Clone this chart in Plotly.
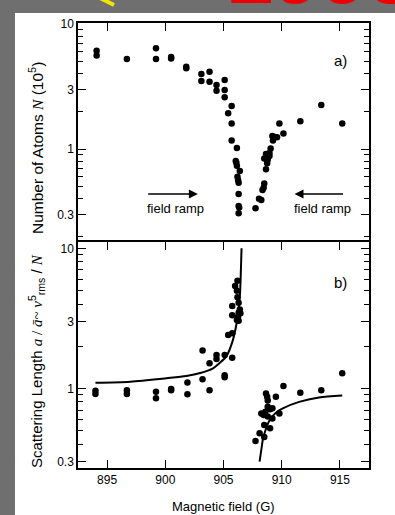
import plotly.graph_objects as go

# ---------------- data ----------------
# Panel a) Number of atoms N (10^5) vs magnetic field (G)
a_left_B = [894.1, 894.1, 896.7, 899.2, 899.2, 900.5, 900.5, 901.8, 901.8,
            903.1, 903.1, 903.8, 903.8, 904.4, 904.4, 905.1, 905.1, 905.1,
            905.7, 905.4, 905.7, 905.7, 906.15, 906.05, 906.1, 906.15,
            906.4, 906.2, 906.25, 906.3, 906.3, 906.3, 906.35, 906.3]
a_left_N = [6.1, 5.6, 5.25, 6.4, 5.25, 5.45, 5.3, 4.55, 4.42,
            3.98, 3.5, 4.15, 3.45, 3.25, 2.93, 3.56, 2.97, 2.59,
            2.21, 1.93, 1.6, 1.17, 1.02, 0.80, 0.78, 0.735,
            0.667, 0.60, 0.565, 0.537, 0.436, 0.35, 0.34, 0.306]
a_right_B = [907.75, 908.05, 908.25, 908.35, 908.45, 908.5, 908.65, 908.75,
             908.5, 908.8, 908.95, 908.65, 908.95, 909.05, 909.25, 909.4,
             909.6, 909.2, 909.8, 910.15, 911.6, 913.4, 915.2]
a_right_N = [0.335, 0.40, 0.39, 0.47, 0.49, 0.53, 0.69, 0.77,
             0.84, 0.82, 0.88, 0.91, 0.93, 1.01, 1.17, 1.25,
             1.24, 1.27, 1.6, 1.33, 1.67, 2.25, 1.6]

# Panel b) scattering length a / a~ vs magnetic field (G)
b_left_B = [894.0, 894.0, 896.7, 896.7, 899.2, 899.2, 900.5, 900.5, 901.9, 901.9,
            903.2, 903.2, 903.8, 903.8, 904.4, 904.4, 905.1, 905.1, 905.1,
            905.75, 905.4, 905.75, 905.75, 905.75, 906.2, 906.0, 906.15,
            906.2, 906.3, 906.4, 906.3, 906.45, 906.25, 906.15, 906.3]
b_left_r = [0.96, 0.91, 0.97, 0.91, 0.946, 0.85, 0.99, 0.97, 1.1, 0.906,
            1.16, 1.86, 0.97, 1.51, 1.73, 1.62, 1.24, 1.2, 1.73,
            1.65, 2.4, 2.47, 3.87, 3.32, 5.87, 5.38, 4.98,
            4.47, 4.09, 3.66, 3.47, 3.43, 3.24, 3.07, 3.04]
b_right_B = [908.65, 908.75, 908.8, 909.5, 910.15, 911.6, 913.4, 915.2,
             908.25, 908.45, 908.6, 908.8, 909.0, 909.2, 909.8, 908.8, 909.2,
             908.5, 909.0, 908.1, 908.5, 907.75]
b_right_r = [0.92, 0.87, 0.82, 0.87, 1.04, 0.93, 0.97, 1.28,
             0.66, 0.645, 0.68, 0.74, 0.71, 0.72, 0.66, 0.63, 0.61,
             0.547, 0.518, 0.477, 0.45, 0.42]

# fitted curve
curve_left_B = [894.0, 897.0, 900.1, 901.8, 903.0, 904.1, 904.6, 905.24,
                905.8, 906.15, 906.4, 906.5, 906.55]
curve_left_r = [1.097, 1.115, 1.18, 1.224, 1.285, 1.39, 1.5, 1.69,
                2.2, 3.0, 4.5, 7.2, 10.0]
curve_right_B = [908.1, 908.24, 908.4, 908.6, 908.9, 909.2, 909.6, 910.1,
                 911.5, 913.2, 915.2]
curve_right_r = [0.30, 0.36, 0.44, 0.50, 0.58, 0.63, 0.68, 0.72,
                 0.80, 0.86, 0.89]

x_ticks = [895, 900, 905, 910, 915]
y_ticks = [0.3, 1, 3, 10]
y_tick_text = ["0.3", "1", "3", "10"]
y_minor = [0.2, 0.4, 0.5, 0.6, 0.7, 0.8, 0.9, 2, 4, 5, 6, 7, 8, 9]

# ---------------- layout geometry ----------------
W, H = 395, 515
ML, MR, MT, MB = 78, 26, 23, 47
PW, PH = W - ML - MR, H - MT - MB
split = 1 - (242 - MT) / PH

def px(xp):
    return (xp - ML) / PW

def py(yp):
    return (H - MB - yp) / PH

FONT = "Liberation Sans"
SERIF = "Liberation Serif"

fig = go.Figure()
mk = dict(size=6.5, color="black")
fig.add_trace(go.Scatter(x=a_left_B + a_right_B, y=a_left_N + a_right_N, mode="markers",
                         marker=mk, xaxis="x2", yaxis="y2", showlegend=False))
fig.add_trace(go.Scatter(x=b_left_B + b_right_B, y=b_left_r + b_right_r, mode="markers",
                         marker=mk, xaxis="x", yaxis="y", showlegend=False))
fig.add_trace(go.Scatter(x=curve_left_B, y=curve_left_r, mode="lines",
                         line=dict(color="black", width=2, shape="spline", smoothing=0.8),
                         xaxis="x", yaxis="y", showlegend=False))
fig.add_trace(go.Scatter(x=curve_right_B, y=curve_right_r, mode="lines",
                         line=dict(color="black", width=2, shape="spline", smoothing=0.8),
                         xaxis="x", yaxis="y", showlegend=False))

common_x = dict(range=[892.5, 917.5], tickmode="array", tickvals=x_ticks,
                ticks="inside", ticklen=8, tickwidth=1.3, tickcolor="black",
                showline=True, linecolor="black", linewidth=1.5,
                showgrid=False, zeroline=False,
                tickfont=dict(family=FONT, size=12, color="black"))
minor = dict(tickvals=y_minor, ticks="inside", ticklen=5, tickwidth=1.1,
             tickcolor="black", showgrid=False)
common_y = dict(type="log", tickmode="array", tickvals=y_ticks, ticktext=y_tick_text,
                ticks="inside", ticklen=8, tickwidth=1.3, tickcolor="black",
                showline=True, linecolor="black", linewidth=1.5, mirror="ticks",
                showgrid=False, zeroline=False, minor=minor,
                tickfont=dict(family=FONT, size=12, color="black"))

fig.update_layout(
    width=W, height=H,
    margin=dict(l=ML, r=MR, t=MT, b=MB),
    paper_bgcolor="#6f6f6f", plot_bgcolor="white",
    xaxis=dict(domain=[0, 1], anchor="y", mirror="ticks", **common_x),
    xaxis2=dict(domain=[0, 1], anchor="y2", matches="x", side="top", mirror=False,
                showticklabels=False, **common_x),
    yaxis=dict(domain=[0, split], anchor="x", range=[-0.569, 1.045], **common_y),
    yaxis2=dict(domain=[split, 1], anchor="x2", range=[-0.744, 1.008], **common_y),
    font=dict(family=FONT, color="black"),
)

shapes = [
    dict(type="rect", xref="paper", yref="paper", x0=px(15), x1=px(420),
         y0=py(540), y1=py(13), fillcolor="white", line=dict(width=0), layer="below"),
    dict(type="line", xref="paper", yref="paper", x0=px(100), y0=py(-2),
         x1=px(114), y1=py(5), line=dict(color="#f2e600", width=4)),
]
fig.update_layout(shapes=shapes)

C = dict(xanchor="center", yanchor="middle", showarrow=False)
ann = [
    dict(text="Number of Atoms <span style=\"font-family:'%s'\"><i>N</i></span> (10<sup>5</sup>)" % SERIF,
         xref="paper", yref="paper", x=px(36), y=py(148), textangle=-90,
         font=dict(size=15.5, family=FONT), **C),
    dict(text="Scattering Length <span style=\"font-family:'%s'\"><i>a</i> / <i>ā</i>~ <i>v</i></span><sup>5</sup><sub>rms</sub> / <span style=\"font-family:'%s'\"><i>N</i></span>" % (SERIF, SERIF),
         xref="paper", yref="paper", x=px(36), y=py(361), textangle=-90,
         font=dict(size=15, family=FONT), **C),
    dict(text="Magnetic field (G)", xref="paper", yref="paper", x=px(223), y=py(506),
         font=dict(size=13, family=FONT), **C),
    dict(text="a)", xref="paper", yref="paper", x=px(340), y=py(60),
         font=dict(size=15, family=FONT), **C),
    dict(text="b)", xref="paper", yref="paper", x=px(340), y=py(282),
         font=dict(size=15, family=FONT), **C),
    dict(text="field ramp", xref="x2", yref="y2", x=900.9, y=-0.472,
         font=dict(size=13, family=FONT), **C),
    dict(text="field ramp", xref="x2", yref="y2", x=913.5, y=-0.472,
         font=dict(size=13, family=FONT), **C),
    dict(text="", xref="x2", yref="y2", x=902.8, y=-0.36, ax=898.4, ay=-0.36,
         axref="x2", ayref="y2", showarrow=True, arrowhead=2, arrowsize=1.2,
         arrowwidth=1.5, arrowcolor="black"),
    dict(text="", xref="x2", yref="y2", x=911.1, y=-0.36, ax=915.4, ay=-0.36,
         axref="x2", ayref="y2", showarrow=True, arrowhead=2, arrowsize=1.2,
         arrowwidth=1.5, arrowcolor="black"),
    dict(text="<b>1998</b>", xref="paper", yref="paper", x=px(320), y=py(23),
         xanchor="center", yanchor="bottom", showarrow=False,
         font=dict(size=85, family=FONT, color="#ee0000")),
]
fig.update_layout(annotations=ann)

fig.write_html("out.html", config={"displayModeBar": False},
               post_script="document.body.style.margin='0px';document.body.style.padding='0px';document.body.style.overflow='hidden';")
